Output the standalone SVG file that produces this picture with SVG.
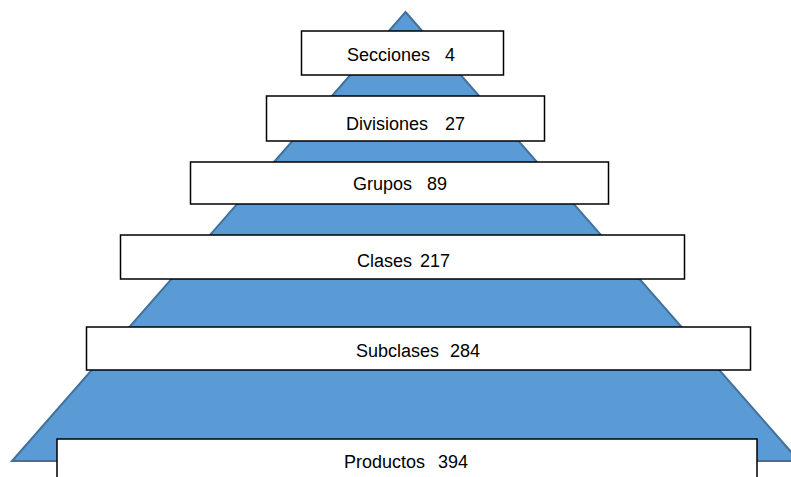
<svg xmlns="http://www.w3.org/2000/svg" width="791" height="477" viewBox="0 0 791 477">
<defs>
<style>
.box{fill:#ffffff;stroke:#000000;stroke-width:1.5}
.tri{fill:#5B9BD5;stroke:#41719C;stroke-width:2}
.t{font-family:"Liberation Sans",Arial,sans-serif;font-size:18px;fill:#000000}
</style>
</defs>
<rect width="791" height="477" fill="#ffffff"/>
<g id="pyramid">
<polygon class="tri" points="405.5,12 799,461 12,461"/>
</g>
<g id="connectors"></g>
<g id="secciones">
<rect class="box" x="301.5" y="31" width="202" height="44"/>
<text class="t" x="347" y="61">Secciones</text>
<text class="t" x="445" y="61">4</text>
</g>
<g id="divisiones">
<rect class="box" x="266.5" y="96" width="278" height="45"/>
<text class="t" x="346" y="130">Divisiones</text>
<text class="t" x="445" y="130">27</text>
</g>
<g id="grupos">
<rect class="box" x="190.5" y="162" width="418" height="42"/>
<text class="t" x="353" y="190">Grupos</text>
<text class="t" x="427" y="190">89</text>
</g>
<g id="clases">
<rect class="box" x="120.5" y="235" width="564" height="44"/>
<text class="t" x="357" y="267">Clases</text>
<text class="t" x="420" y="267">217</text>
</g>
<g id="subclases">
<rect class="box" x="86.5" y="327" width="664" height="43"/>
<text class="t" x="356" y="357">Subclases</text>
<text class="t" x="450" y="357">284</text>
</g>
<g id="productos">
<rect class="box" x="57" y="439" width="700" height="45"/>
<text class="t" x="344" y="468">Productos</text>
<text class="t" x="438" y="468">394</text>
</g>
</svg>
